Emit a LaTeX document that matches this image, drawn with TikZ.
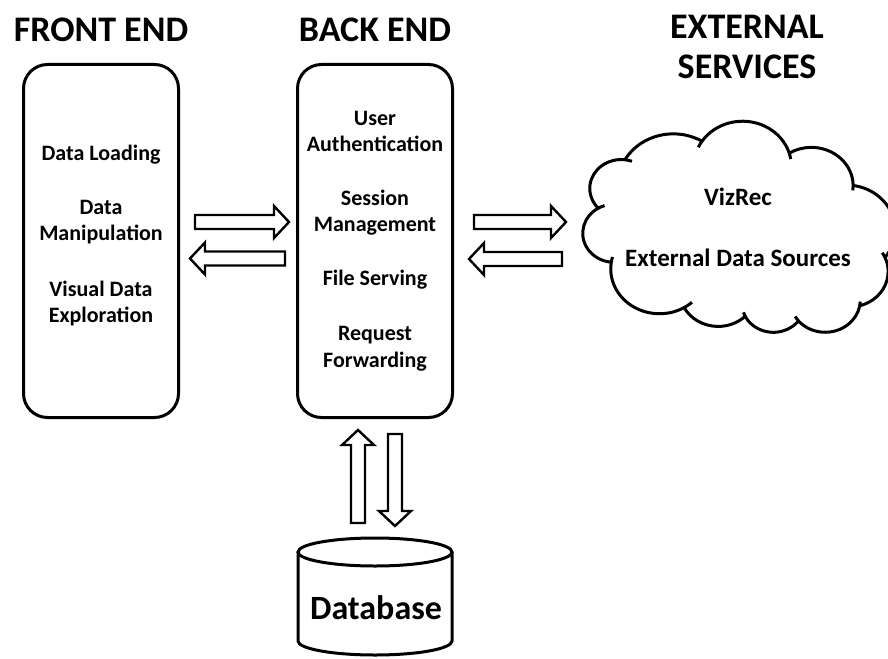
\documentclass[tikz,border=0pt]{standalone}
\usepackage{fontspec}
\setmainfont{Carlito}
\pgfmathdeclarefunction{vis}{3}{%
  \pgfmathparse{atan2((#2)*sin(#1),(#3)*cos(#1))}%
  \pgfmathsetmacro\visA{\pgfmathresult}%
  \pgfmathparse{\visA+360*round(((#1)-\visA)/360)}%
}
\newcommand\harrow[3]{% tail x, tip x, centre y
  \pgfmathsetmacro\hb{#2-15*sign(#2-#1)}%
  \draw[barrow] (#1,#3-7) -- (\hb,#3-7) -- (\hb,#3-16) -- (#2,#3) -- (\hb,#3+16) -- (\hb,#3+7) -- (#1,#3+7) -- cycle;}
\newcommand\varrow[3]{% tail y, tip y, centre x
  \pgfmathsetmacro\hb{#2-15*sign(#2-#1)}%
  \draw[barrow] (#3-7,#1) -- (#3-7,\hb) -- (#3-16,\hb) -- (#3,#2) -- (#3+16,\hb) -- (#3+7,\hb) -- (#3+7,#1) -- cycle;}
\newcommand\carc[4]{arc[x radius=#1, y radius=#2, start angle={vis(#3,#1,#2)}, end angle={vis(#4,#1,#2)}]}
\begin{document}
\begin{tikzpicture}[x=1pt,y=-1pt,
  boxline/.style={draw=black, line width=3pt, rounded corners=24pt, inner sep=0pt},
  barrow/.style={draw=black, line width=2.4pt, fill=white, line join=miter},
  thick3/.style={draw=black, line width=3pt},
  lbl/.style={font=\bfseries\fontsize{22}{26.5}\selectfont, align=center, inner sep=0pt},
  clbl/.style={font=\bfseries\fontsize{25}{30}\selectfont, align=center, inner sep=0pt},
  title/.style={font=\bfseries\fontsize{36}{40}\selectfont, align=center, inner sep=0pt}]
\useasboundingbox[fill=white] (0,0) rectangle (888,658);

% titles
\node[title] (tfe) at (101,30) {FRONT END};
\node[title] (tbe) at (375,30) {BACK END};
\node[title] (tes) at (747,47) {EXTERNAL\\SERVICES};

% boxes
\node[boxline, minimum width=155pt, minimum height=353pt] (fe) at (101,241) {};
\node[boxline, minimum width=155pt, minimum height=353pt] (be) at (375,241) {};

\node[lbl] (f1) at (101,155) {Data Loading};
\node[lbl] (f2) at (101,222) {Data\\Manipulation};
\node[lbl] (f3) at (101,303.5) {Visual Data\\Exploration};

\node[lbl] (b1) at (375,131.5) {User\\Authentication};
\node[lbl] (b2) at (375,212.5) {Session\\Management};
\node[lbl] (b3) at (375,280) {File Serving};
\node[lbl] (b4) at (375,348.5) {Request\\Forwarding};

% cloud (mirrored top-bottom)
\begin{scope}[shift={(583,333)}, x=7.2222pt, y=4.8843pt, thick3, line join=round]
\draw (3.9,14.37) coordinate (P0)
  \carc{6.753}{9.190}{-190.4875}{-66.707} coordinate (P1)
  \carc{5.333}{7.267}{-144.1024}{-54.157} coordinate (P2)
  \carc{4.365}{5.945}{-145.8079}{-46.085} coordinate (P3)
  \carc{4.857}{6.595}{-130.9861}{-13.744} coordinate (P4)
  \carc{5.333}{7.273}{-78.7089}{30.318} coordinate (P5)
  \carc{6.775}{9.220}{-46.2673}{84.0017} coordinate (P6)
  \carc{5.785}{7.867}{0.625}{114.658} coordinate (P7)
  \carc{6.752}{9.215}{22.4516}{137.624} coordinate (P8)
  \carc{7.720}{10.543}{66.2426}{141.954} coordinate (P9)
  \carc{4.360}{5.918}{-274.9421}{-128.2065} coordinate (P10)
  \carc{4.345}{5.945}{-246.8285}{-94.3096} -- cycle;
\draw (P0) \carc{6.753}{9.190}{169.5125}{159.5};
\draw (P1) \carc{6.753}{9.190}{-66.707}{-56.7};
\draw (P2) \carc{4.365}{5.945}{-145.8079}{-155.8};
\draw (P3) \carc{4.857}{6.595}{-130.9861}{-141};
\draw (P4) \carc{4.857}{6.595}{-13.744}{-3.7};
\draw (P5) \carc{5.333}{7.273}{30.318}{40.3};
\draw (P6) \carc{5.785}{7.867}{0.625}{-9.4};
\draw (P7) \carc{6.752}{9.215}{22.4516}{12.45};
\draw (P8) \carc{6.752}{9.215}{137.624}{147.6};
\draw (P9) \carc{4.360}{5.918}{85.0579}{75.06};
\draw (P10) \carc{4.345}{5.945}{113.1715}{103.17};
\end{scope}
\node[clbl] (c1) at (738,197) {VizRec};
\node[clbl] (c2) at (738,258) {External Data Sources};

% database
\draw[thick3] (298,552) -- (298,641) arc[x radius=77pt, y radius=14pt, start angle=180, end angle=360] -- (452,552);
\draw[thick3] (375,552) ellipse [x radius=77pt, y radius=14pt];
\node[font=\bfseries\fontsize{34}{40}\selectfont, inner sep=0pt] (db) at (376,608) {Database};

% block arrows
\harrow{195}{289}{222}
\harrow{285}{190}{258.5}
\harrow{474}{566}{222}
\harrow{562}{469}{259}
\varrow{523}{430}{358}
\varrow{434}{526}{395}
\end{tikzpicture}
\end{document}
